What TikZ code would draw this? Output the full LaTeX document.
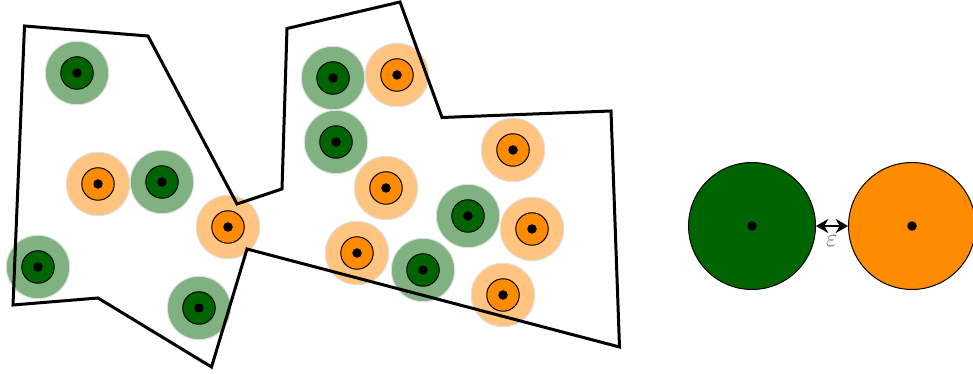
\documentclass[tikz,border=0pt]{standalone}
\usetikzlibrary{arrows.meta}

\definecolor{grn}{RGB}{0,100,0}
\definecolor{org}{RGB}{255,140,0}

\begin{document}
\begin{tikzpicture}[
    x=0.02cm, y=-0.02cm,
    % Node styles
    halo/.style={
        circle, draw=gray!25, line width=0.02cm,
        minimum size=1.27cm, inner sep=0pt
    },
    core/.style={
        circle, draw=black, line width=0.02cm,
        minimum size=0.65cm, inner sep=0pt
    },
    centre/.style={
        circle, fill=black, minimum size=0.19cm, inner sep=0pt
    },
    bigdisk/.style={
        circle, draw=black, line width=0.02cm,
        minimum size=2.54cm, inner sep=0pt
    },
    region/.style={draw=black, line width=0.06cm, line join=miter},
    gap/.style={{Stealth[length=7pt, width=8pt]}-{Stealth[length=7pt, width=8pt]}, line width=0.05cm},
    gaplabel/.style={font=\Large, text=black!60}
]

\clip (0,0) rectangle (973,374);

% ============================================================
% Green points
% ============================================================
\foreach \n/\px/\py in {g1/77/73, g2/162/182, g3/38/267, g4/199/308,
                        g5/333/78, g6/336/142, g7/468/216, g8/423/270}{
    \node[halo, fill=grn!50] (\n-halo) at (\px,\py) {};
    \node[core, fill=grn] (\n-core) at (\n-halo) {};
    \node[centre] (\n-dot) at (\n-halo) {};
}

% ============================================================
% Orange points
% ============================================================
\foreach \n/\px/\py in {o1/98/184, o2/228/227, o3/397/75, o4/513/150,
                        o5/386/188, o6/532/229, o7/357/253, o8/503/295}{
    \node[halo, fill=org!50] (\n-halo) at (\px,\py) {};
    \node[core, fill=org] (\n-core) at (\n-halo) {};
    \node[centre] (\n-dot) at (\n-halo) {};
}

% ============================================================
% Region boundary
% ============================================================
\draw[region] (24.5,26) -- (148,36) -- (237,204) -- (282,189)
    -- (287,28.5) -- (400,2) -- (442,117.5) -- (611,111)
    -- (619.5,347) -- (247,249) -- (211.5,367) -- (98,298)
    -- (13,305) -- cycle;

% ============================================================
% Separation between two points
% ============================================================
\node[bigdisk, fill=grn] (gbig) at (752,226) {};
\node[centre] (gbig-dot) at (gbig) {};
\node[bigdisk, fill=org] (obig) at (912,226) {};
\node[centre] (obig-dot) at (obig) {};

\draw[gap] (gbig) -- (obig);
\node[gaplabel] (eps) at (832,241) {$\varepsilon$};

\end{tikzpicture}
\end{document}
